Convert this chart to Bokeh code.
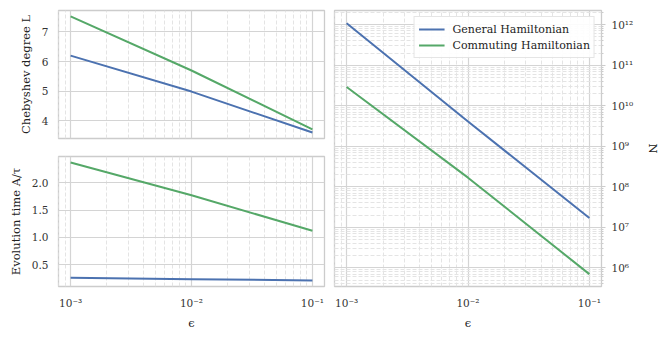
from bokeh.plotting import figure
from bokeh.layouts import row, column
from bokeh.models import Range1d, FixedTicker, CustomJSTickFormatter, Legend, LegendItem
from bokeh.embed import file_html
from bokeh.resources import INLINE

# ---- data ----
eps = [1e-3, 1e-2, 1e-1]
L_general = [6.20, 4.99, 3.61]
L_commuting = [7.52, 5.70, 3.72]
A_general = [0.26, 0.235, 0.21]
A_commuting = [2.37, 1.77, 1.12]
N_general = [1.08e12, 4.1e9, 1.7e7]
N_commuting = [2.9e10, 1.68e8, 7.0e5]

x_ticks = [1e-3, 1e-2, 1e-1]
L_ticks = [4, 5, 6, 7]
A_ticks = [0.5, 1.0, 1.5, 2.0]
N_ticks = [1e6, 1e7, 1e8, 1e9, 1e10, 1e11, 1e12]

BLUE = "#4c72b0"
GREEN = "#55a868"
FONT = "DejaVu Serif"
GRID = "#d4d4d4"
MINOR = "#e4e4e4"

x_minor = [m * 10.0 ** k for k in range(-4, 0) for m in range(2, 10)]
N_minor = [m * 10.0 ** k for k in range(5, 13) for m in range(2, 10)]

sup_js = """
const e = Math.round(Math.log10(tick));
const sup = {'-':'\u207b','0':'\u2070','1':'\u00b9','2':'\u00b2','3':'\u00b3','4':'\u2074','5':'\u2075','6':'\u2076','7':'\u2077','8':'\u2078','9':'\u2079'};
return '10' + String(e).split('').map(c => sup[c]).join('');
"""


def style(p):
    p.outline_line_color = "#cccccc"
    p.outline_line_width = 1.3
    p.background_fill_color = "white"
    p.border_fill_color = "white"
    for g in p.grid:
        g.grid_line_color = GRID
        g.grid_line_width = 1.2
    for ax in p.axis:
        ax.axis_line_color = None
        ax.major_tick_line_color = None
        ax.minor_tick_line_color = None
        ax.major_tick_out = 0
        ax.major_tick_in = 0
        ax.minor_tick_out = 0
        ax.minor_tick_in = 0
        ax.major_label_text_font = FONT
        ax.major_label_text_font_size = "10.5px"
        ax.major_label_text_color = "#333333"
        ax.axis_label_text_font = FONT
        ax.axis_label_text_font_size = "11.5px"
        ax.axis_label_text_font_style = "normal"
        ax.axis_label_text_color = "#222222"
        ax.major_label_standoff = 10
        ax.axis_label_standoff = 6


xr = Range1d(10 ** -3.1, 10 ** -0.9)

# ---- top-left: Chebyshev degree ----
p1 = figure(width=326, height=147, x_axis_type="log", x_range=xr,
            y_range=Range1d(3.41, 7.72), output_backend="svg", toolbar_location=None,
            min_border_left=58, min_border_right=2, min_border_top=10, min_border_bottom=9)
p1.line(eps, L_general, color=BLUE, line_width=2)
p1.line(eps, L_commuting, color=GREEN, line_width=2)
p1.xaxis.ticker = FixedTicker(ticks=x_ticks, minor_ticks=x_minor)
p1.yaxis.ticker = FixedTicker(ticks=L_ticks)
p1.yaxis.axis_label = "Chebyshev degree L"
style(p1)
p1.xaxis.visible = False
p1.xgrid.minor_grid_line_color = MINOR
p1.xgrid.minor_grid_line_dash = "4 2"
p1.xgrid.minor_grid_line_width = 1

# ---- bottom-left: evolution time ----
p2 = figure(width=326, height=191, x_axis_type="log", x_range=xr,
            y_range=Range1d(0.10, 2.48), output_backend="svg", toolbar_location=None,
            min_border_left=58, min_border_right=2, min_border_top=9, min_border_bottom=52)
p2.line(eps, A_general, color=BLUE, line_width=2)
p2.line(eps, A_commuting, color=GREEN, line_width=2)
p2.xaxis.ticker = FixedTicker(ticks=x_ticks, minor_ticks=x_minor)
p2.yaxis.ticker = FixedTicker(ticks=A_ticks)
p2.xaxis.formatter = CustomJSTickFormatter(code=sup_js)
p2.yaxis.formatter = CustomJSTickFormatter(code="return tick.toFixed(1);")
p2.yaxis.axis_label = "Evolution time A/\u03c4"
p2.xaxis.axis_label = "\u03f5"
style(p2)
p2.xaxis.axis_label_standoff = 4
p2.xgrid.minor_grid_line_color = MINOR
p2.xgrid.minor_grid_line_dash = "4 2"
p2.xgrid.minor_grid_line_width = 1

# ---- right: N ----
p3 = figure(width=337, height=338, x_axis_type="log", y_axis_type="log", x_range=xr,
            y_range=Range1d(10 ** 5.54, 10 ** 12.35), y_axis_location="right",
            output_backend="svg", toolbar_location=None,
            min_border_left=8, min_border_right=20, min_border_top=10, min_border_bottom=52)
r1 = p3.line(eps, N_general, color=BLUE, line_width=2)
r2 = p3.line(eps, N_commuting, color=GREEN, line_width=2)
p3.xaxis.ticker = FixedTicker(ticks=x_ticks, minor_ticks=x_minor)
p3.yaxis.ticker = FixedTicker(ticks=N_ticks, minor_ticks=N_minor)
p3.xaxis.formatter = CustomJSTickFormatter(code=sup_js)
p3.yaxis.formatter = CustomJSTickFormatter(code=sup_js)
p3.xaxis.axis_label = "\u03f5"
p3.yaxis.axis_label = "N"
style(p3)
p3.xaxis.axis_label_standoff = 4
p3.yaxis.major_tick_line_color = "#cccccc"
p3.yaxis.minor_tick_line_color = "#cccccc"
p3.yaxis.major_tick_out = 4
p3.yaxis.minor_tick_out = 2
p3.yaxis.major_label_standoff = 6
p3.yaxis.axis_label_standoff = 10
for g in p3.grid:
    g.minor_grid_line_color = MINOR
    g.minor_grid_line_dash = "4 2"
    g.minor_grid_line_width = 1

legend = Legend(items=[LegendItem(label="General Hamiltonian", renderers=[r1]),
                       LegendItem(label="Commuting Hamiltonian", renderers=[r2])],
                location="top_right")
legend.label_text_font = FONT
legend.label_text_font_size = "11px"
legend.label_text_color = "#222222"
legend.border_line_color = "#cccccc"
legend.border_line_width = 1
legend.background_fill_alpha = 0.9
legend.margin = 6
legend.padding = 4
legend.spacing = 0
legend.glyph_width = 26
legend.glyph_height = 16
legend.label_height = 16
legend.label_standoff = 8
p3.add_layout(legend)

layout = row(column(p1, p2), p3)
open("out.html", "w").write(file_html(layout, INLINE))
